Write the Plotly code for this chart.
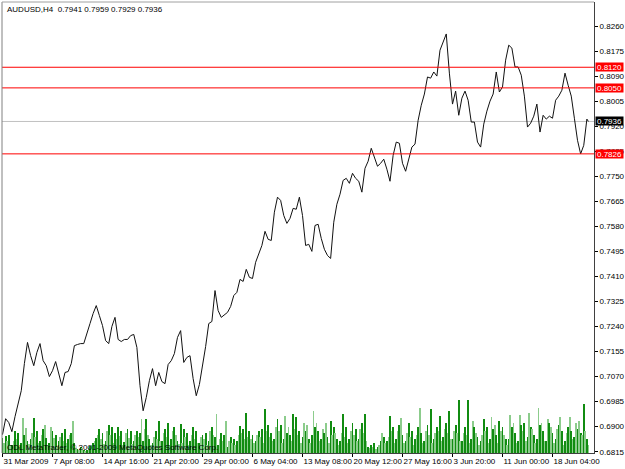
import plotly.graph_objects as go

# ---- data ----
symbol_info = "AUDUSD,H4  0.7941 0.7959 0.7929 0.7936"
copyright_text = "ODL MetaTrader, © 2001-2009 MetaQuotes Software Corp."

# close prices, one reading every second H4 bar (bar 0..374) plus the last bar 375
closes = [
    0.6873, 0.6927, 0.6914, 0.6883, 0.6934, 0.6975, 0.7022, 0.7114, 0.7186, 0.7141,
    0.7107, 0.7152, 0.7182, 0.7124, 0.7107, 0.7070, 0.7090, 0.7121, 0.7084, 0.7039,
    0.7084, 0.7087, 0.7114, 0.7175, 0.7179, 0.7182, 0.7182, 0.7220, 0.7250, 0.7284,
    0.7311, 0.7277, 0.7243, 0.7192, 0.7182, 0.7240, 0.7271, 0.7196, 0.7189, 0.7196,
    0.7196, 0.7209, 0.7213, 0.7169, 0.7039, 0.6954, 0.6999, 0.7056, 0.7097, 0.7039,
    0.7084, 0.7053, 0.7046, 0.7111, 0.7124, 0.7148, 0.7203, 0.7226, 0.7118, 0.7135,
    0.7141, 0.7063, 0.7005, 0.7043, 0.7101, 0.7172, 0.7250, 0.7257, 0.7362, 0.7294,
    0.7271, 0.7281, 0.7288, 0.7308, 0.7345, 0.7356, 0.7400, 0.7393, 0.7434, 0.7407,
    0.7403, 0.7458, 0.7488, 0.7515, 0.7563, 0.7536, 0.7532, 0.7628, 0.7679, 0.7668,
    0.7617, 0.7590, 0.7607, 0.7641, 0.7638, 0.7679, 0.7617, 0.7515, 0.7519, 0.7495,
    0.7583, 0.7587, 0.7539, 0.7502, 0.7481, 0.7471, 0.7594, 0.7655, 0.7689, 0.7736,
    0.7743, 0.7726, 0.7760, 0.7743, 0.7733, 0.7696, 0.7777, 0.7801, 0.7845, 0.7811,
    0.7784, 0.7794, 0.7808, 0.7774, 0.7733, 0.7821, 0.7866, 0.7862, 0.7794, 0.7767,
    0.7808, 0.7849, 0.7859, 0.7940, 0.7991, 0.8029, 0.8087, 0.8083, 0.8104, 0.8090,
    0.8178, 0.8206, 0.8233, 0.8100, 0.7995, 0.8039, 0.7957, 0.8015, 0.8039, 0.8008,
    0.7934, 0.7934, 0.7866, 0.7849, 0.7927, 0.7971, 0.8005, 0.8029, 0.8104, 0.8036,
    0.8053, 0.8144, 0.8195, 0.8185, 0.8121, 0.8121, 0.8093, 0.8022, 0.7917, 0.7930,
    0.7954, 0.7995, 0.7900, 0.7957, 0.7944, 0.7954, 0.7947, 0.8008, 0.8022, 0.8042,
    0.8100, 0.8059, 0.8022, 0.7947, 0.7872, 0.7826, 0.7855, 0.7944, 0.7936,
]
close_bars = list(range(0, 375, 2)) + [375]

# tick volume per H4 bar (bar 0..375)
volume = [
    150, 100, 170, 120, 180, 80,    80, 120, 220, 140, 200, 60,
    100, 350, 180, 250, 120, 90,    140, 200, 350, 160, 220, 100,
    120, 180, 240, 280, 150, 80,    100, 260, 220, 150, 180, 60,
    120, 160, 200, 120, 240, 100,   140, 180, 200, 320, 100, 50,
    40, 30, 60, 50, 30, 20,         30, 50, 70, 80, 100, 120,
    150, 180, 240, 140, 200, 90,    120, 220, 280, 180, 260, 100,
    200, 140, 260, 170, 220, 80,    110, 200, 240, 150, 220, 90,
    120, 180, 220, 160, 200, 340,   120, 240, 340, 180, 140, 80,
    100, 160, 220, 140, 320, 120,   120, 200, 240, 160, 300, 80,
    140, 220, 260, 180, 120, 90,    290, 100, 240, 160, 200, 80,
    120, 180, 260, 140, 220, 100,   100, 160, 180, 140, 200, 80,
    120, 220, 260, 180, 160, 390,   80, 140, 200, 120, 180, 320,
    60, 120, 160, 100, 140, 80,     120, 180, 270, 200, 240, 140,
    400, 160, 220, 140, 180, 100,   120, 180, 220, 160, 240, 100,
    440, 220, 280, 160, 200, 120,   140, 260, 340, 220, 280, 100,
    140, 370, 200, 260, 180, 120,   390, 240, 360, 180, 220, 100,
    160, 300, 220, 280, 140, 100,   180, 420, 260, 300, 220, 120,
    140, 240, 200, 300, 160, 100,   320, 180, 260, 200, 140, 80,
    120, 200, 390, 160, 260, 100,   140, 220, 300, 180, 240, 120,
    140, 240, 300, 200, 390, 120,   60, 50, 80, 60, 100, 40,
    60, 80, 120, 200, 160, 100,     120, 160, 370, 220, 260, 100,
    140, 220, 280, 350, 180, 100,   120, 200, 300, 160, 220, 80,
    140, 180, 260, 450, 200, 100,   120, 220, 280, 180, 440, 100,
    140, 200, 260, 220, 370, 120,   160, 240, 300, 200, 420, 140,
    140, 220, 280, 200, 530, 120,   120, 200, 260, 180, 530, 100,
    140, 320, 260, 200, 160, 80,    120, 180, 340, 220, 260, 100,
    140, 360, 240, 280, 180, 100,   320, 220, 260, 180, 140, 80,
    140, 380, 260, 300, 200, 100,   120, 380, 280, 220, 300, 120,
    160, 400, 260, 240, 180, 100,   140, 450, 280, 300, 220, 120,
    120, 340, 300, 260, 200, 100,   140, 240, 280, 360, 220, 80,
    120, 200, 260, 360, 220, 140,   160, 300, 240, 320, 200, 180,
    490, 220, 140, 80,
]
vol_bars = list(range(len(volume)))

tick_bars = [0, 32, 64, 96, 128, 160, 192, 224, 256, 288, 320, 352]
tick_labels = ["31 Mar 2009", "7 Apr 08:00", "14 Apr 16:00", "21 Apr 20:00",
               "29 Apr 00:00", "6 May 04:00", "13 May 08:00", "20 May 12:00",
               "27 May 16:00", "3 Jun 20:00", "11 Jun 00:00", "18 Jun 04:00"]

price_ticks = [0.6815, 0.6900, 0.6985, 0.7070, 0.7155, 0.7240, 0.7325, 0.7410,
               0.7495, 0.7580, 0.7665, 0.7750, 0.7835, 0.7920, 0.8005, 0.8090,
               0.8175, 0.8260]

level_lines = [0.8120, 0.8050, 0.7826]
bid_price = 0.7936

# ---- figure ----
FONT = "Liberation Sans, Arial, sans-serif"
fig = go.Figure()

# the screenshot was downscaled, so the 1px volume lines alternate between
# a full green and a washed-out green
vol_colors = ["#118c11" if i % 2 == 0 else "#8ccc8c" for i in vol_bars]

fig.add_trace(go.Bar(
    x=vol_bars, y=volume, yaxis="y2", width=0.55,
    marker=dict(color=vol_colors, line=dict(width=0)),
    hoverinfo="skip", showlegend=False,
))

fig.add_trace(go.Scatter(
    x=close_bars, y=closes, mode="lines",
    line=dict(color="#111111", width=1),
    showlegend=False, hoverinfo="skip",
))

shapes = []
for lv in level_lines:
    shapes.append(dict(type="line", xref="paper", x0=0, x1=1, yref="y", y0=lv, y1=lv,
                       line=dict(color="#ff0000", width=1)))
shapes.append(dict(type="line", xref="paper", x0=0, x1=1, yref="y", y0=bid_price, y1=bid_price,
                   line=dict(color="#c0c0c0", width=1), layer="below"))
# chart frame (left and top)
shapes.append(dict(type="line", xref="paper", yref="paper", x0=0, x1=0, y0=0, y1=1,
                   line=dict(color="#808080", width=1)))
shapes.append(dict(type="line", xref="paper", yref="paper", x0=0, x1=1, y0=1, y1=1,
                   line=dict(color="#a0a0a0", width=1)))

annotations = []
for lv in level_lines:
    annotations.append(dict(xref="paper", x=1, xanchor="left", yref="y", y=lv, yanchor="middle",
                            text=f"{lv:.4f}", showarrow=False, bgcolor="#ff0000",
                            font=dict(family=FONT, size=8, color="#ffffff"),
                            width=27, height=8, borderpad=0, xshift=1))
annotations.append(dict(xref="paper", x=1, xanchor="left", yref="y", y=bid_price, yanchor="middle",
                        text=f"{bid_price:.4f}", showarrow=False, bgcolor="#000000",
                        font=dict(family=FONT, size=8, color="#ffffff"),
                        width=27, height=8, borderpad=0, xshift=1))
annotations.append(dict(xref="paper", x=0, xanchor="left", yref="paper", y=1, yanchor="top",
                        text=symbol_info, showarrow=False, xshift=3, yshift=-1,
                        font=dict(family=FONT, size=8, color="#000000")))
annotations.append(dict(xref="paper", x=0, xanchor="left", yref="paper", y=0, yanchor="bottom",
                        text=copyright_text, showarrow=False, xshift=3, yshift=-1,
                        font=dict(family=FONT, size=8, color="#000000")))

fig.update_layout(
    width=625, height=469,
    margin=dict(l=2, r=31, t=2, b=16, pad=0, autoexpand=False),
    paper_bgcolor="#ffffff", plot_bgcolor="#ffffff",
    bargap=0,
    shapes=shapes, annotations=annotations,
    xaxis=dict(
        range=[-0.32, 378.56], showgrid=False, zeroline=False,
        tickmode="array", tickvals=tick_bars, ticktext=tick_labels,
        tickangle=0, automargin=False,
        ticks="outside", ticklen=3, tickcolor="#000000",
        ticklabelposition="outside right",
        tickfont=dict(family=FONT, size=8, color="#000000"),
        showline=True, linecolor="#404040", linewidth=1,
        fixedrange=True,
    ),
    yaxis=dict(
        range=[0.68106, 0.83415], side="right", showgrid=False, zeroline=False,
        tickmode="array", tickvals=price_ticks, ticktext=[f"{v:.4f}" for v in price_ticks],
        ticks="outside", ticklen=3, tickcolor="#000000", automargin=False,
        tickfont=dict(family=FONT, size=8, color="#000000"),
        showline=True, linecolor="#404040", linewidth=1,
        fixedrange=True,
    ),
    yaxis2=dict(range=[0, 4510], overlaying="y", visible=False, fixedrange=True),
)

fig.write_html("out.html")
